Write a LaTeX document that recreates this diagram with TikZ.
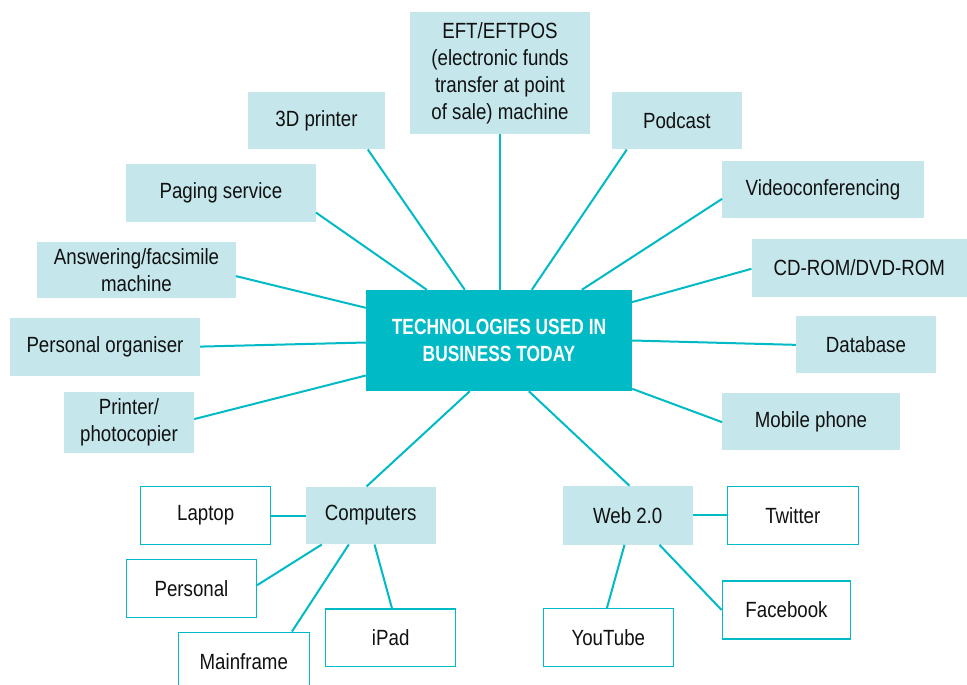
\documentclass[tikz,border=0pt]{standalone}
\usepackage{fontspec}
\usetikzlibrary{calc}
\newfontfamily\cfont{Liberation Sans}[FakeStretch=0.85]
\newfontfamily\bcfont{Liberation Sans}[FakeStretch=0.79]
\definecolor{tealc}{HTML}{00BAC6}
\definecolor{lightb}{HTML}{C5E7EC}
\definecolor{txt}{HTML}{111111}
\tikzset{
  lb/.style={fill=lightb, inner sep=0pt, align=center, text=txt,
    font=\cfont\fontsize{22}{27}\selectfont},
  wb/.style={fill=white, draw=tealc, line width=1.5pt, inner sep=0pt, align=center, text=txt,
    font=\cfont\fontsize{22}{27}\selectfont},
  hub/.style={fill=tealc, inner sep=0pt, align=center, text=white,
    font=\bcfont\bfseries\fontsize{22}{27.5}\selectfont},
  con/.style={draw=tealc, line width=2pt}
}
\begin{document}
\begin{tikzpicture}[x=1pt,y=-1pt]
\useasboundingbox (0,0) rectangle (967,685);
% connectors first (drawn under boxes)
\node[hub, minimum width=266pt, minimum height=101pt] (c) at (499,340.5) {TECHNOLOGIES USED IN\\BUSINESS TODAY};
\node[lb, minimum width=180pt, minimum height=122pt] (eft) at (500,73) {EFT/EFTPOS\\(electronic funds\\transfer at point\\of sale) machine};
\node[lb, minimum width=137pt, minimum height=57pt] (p3d) at (316.5,120.8) {3D printer};
\node[lb, minimum width=129.7pt, minimum height=57pt] (pod) at (676.9,120.8) {Podcast};
\node[lb, minimum width=189.7pt, minimum height=57.7pt] (pag) at (220.9,192.9) {Paging service};
\node[lb, minimum width=201.4pt, minimum height=57.3pt] (vid) at (823,189.7) {Videoconferencing};
\node[lb, minimum width=198.4pt, minimum height=56pt] (ans) at (136.5,270.3) {Answering/facsimile\\machine};
\node[lb, minimum width=215.3pt, minimum height=57.4pt] (cd) at (859.3,268) {CD-ROM/DVD-ROM};
\node[lb, minimum width=190pt, minimum height=57.4pt] (org) at (105,347) {Personal organiser};
\node[lb, minimum width=139.7pt, minimum height=57.3pt] (db) at (865.9,344.7) {Database};
\node[lb, minimum width=130pt, minimum height=60.4pt] (prn) at (129,422.5) {Printer/\\photocopier};
\node[lb, minimum width=177.4pt, minimum height=56.7pt] (mob) at (811,421.7) {Mobile phone};
\node[lb, minimum width=130pt, minimum height=57.6pt] (comp) at (370.7,515.5) {Computers};
\node[lb, minimum width=130pt, minimum height=58.7pt] (web) at (627.7,515.3) {Web 2.0};
\node[wb, minimum width=130pt, minimum height=57.6pt] (lap) at (205.7,515.5) {Laptop};
\node[wb, minimum width=129.6pt, minimum height=58pt] (pers) at (191.5,588.3) {Personal};
\node[wb, minimum width=131pt, minimum height=58pt] (main) at (243.8,661.3) {Mainframe};
\node[wb, minimum width=130pt, minimum height=57.7pt] (ipad) at (390.7,637.8) {iPad};
\node[wb, minimum width=131pt, minimum height=58pt] (tw) at (792.8,515.7) {Twitter};
\node[wb, minimum width=128.4pt, minimum height=58pt] (fb) at (786.5,610) {Facebook};
\node[wb, minimum width=130pt, minimum height=58pt] (yt) at (608.3,637.7) {YouTube};
% connectors
\draw[con] (eft.south) -- (eft.south |- c.north);
\draw[con] ($(p3d.south west)+(120,0)$) -- ($(c.north west)+(99,0)$);
\draw[con] ($(pod.south west)+(15,0)$) -- ($(c.north west)+(166,0)$);
\draw[con] ($(pag.north east)+(0,48.7)$) -- ($(c.north west)+(61,0)$);
\draw[con] ($(vid.north west)+(0,38)$) -- ($(c.north west)+(216,0)$);
\draw[con] ($(ans.north east)+(0,34)$) -- ($(c.north west)+(0,18)$);
\draw[con] ($(org.north east)+(0,28.5)$) -- ($(c.north west)+(0,52.7)$);
\draw[con] ($(prn.north east)+(0,27)$) -- ($(c.north west)+(0,85.7)$);
\draw[con] ($(cd.north west)+(0,29.7)$) -- ($(c.north east)+(0,12.3)$);
\draw[con] ($(db.north west)+(0,29)$) -- ($(c.north east)+(0,50.7)$);
\draw[con] ($(mob.north west)+(0,29)$) -- ($(c.north east)+(0,99)$);
\draw[con] ($(c.south west)+(104,0)$) -- ($(comp.north west)+(61,0)$);
\draw[con] ($(c.south west)+(163,0)$) -- ($(web.north west)+(67,0)$);
\draw[con] (lap.east) -- (lap.east -| comp.west);
\draw[con] ($(pers.north east)+(0,26.7)$) -- ($(comp.south west)+(16.3,0)$);
\draw[con] ($(main.north west)+(114.4,0)$) -- ($(comp.south west)+(43.3,0)$);
\draw[con] ($(ipad.north west)+(67,0)$) -- ($(comp.south west)+(69,0)$);
\draw[con] (web.east) -- (web.east -| tw.west);
\draw[con] ($(fb.north west)+(0,29.7)$) -- ($(web.south west)+(97,0)$);
\draw[con] ($(yt.north west)+(64.4,0)$) -- ($(web.south west)+(62,0)$);
\end{tikzpicture}
\end{document}
